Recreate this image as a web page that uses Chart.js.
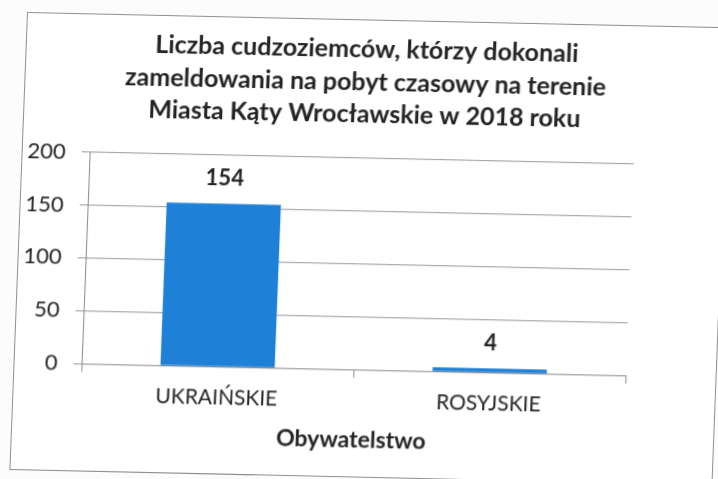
<!DOCTYPE html>
<html>
<head>
<meta charset="utf-8">
<script src="https://cdn.jsdelivr.net/npm/chart.js@4"></script>
<style>
  html, body { margin: 0; padding: 0; background: #fcfcfc; overflow: hidden; width: 718px; height: 479px; }
  /* skan jest lekko przekrzywiony - stąd macierz */
  #kadr {
    position: absolute; left: 27px; top: 12px; width: 703px; height: 458px;
    box-sizing: border-box; border: 1px solid #8f8f8f; background: #fff;
    transform: matrix(1, 0.0218, -0.0384, 1, 0, 0); transform-origin: 0 0;
  }
  #wykres { display: block; }
</style>
</head>
<body>
<div id="kadr"><canvas id="wykres" width="701" height="456"></canvas></div>
<script>
// dane
const kategorie = ['UKRAIŃSKIE', 'ROSYJSKIE'];
const liczby = [154, 4];
const tytul = [
  'Liczba cudzoziemców, którzy dokonali',
  'zameldowania na pobyt czasowy na terenie',
  'Miasta Kąty Wrocławskie w 2018 roku'
];
const osX = 'Obywatelstwo';

const czcionka = 'Lato, "Open Sans", sans-serif';

// wartości nad słupkami
const etykiety = {
  id: 'etykiety',
  afterDatasetsDraw(chart) {
    const ctx = chart.ctx;
    const meta = chart.getDatasetMeta(0);
    ctx.save();
    ctx.font = 'bold 22px ' + czcionka;
    ctx.fillStyle = '#222';
    ctx.textAlign = 'center';
    ctx.textBaseline = 'middle';
    meta.data.forEach((bar, i) => {
      ctx.fillText(String(liczby[i]), bar.x, bar.y - 25);
    });
    ctx.restore();
  }
};

new Chart(document.getElementById('wykres'), {
  type: 'bar',
  data: {
    labels: kategorie,
    datasets: [{
      data: liczby,
      backgroundColor: '#1f80d8',
      categoryPercentage: 1,
      barPercentage: 0.42
    }]
  },
  options: {
    responsive: false,
    animation: false,
    layout: { padding: { left: 4, right: 25, top: 0, bottom: 19 } },
    plugins: {
      legend: { display: false },
      tooltip: { enabled: false },
      title: {
        display: true,
        text: tytul,
        color: '#222',
        font: { family: czcionka, size: 25, weight: 'bold', lineHeight: 1.3 },
        padding: { top: 13, bottom: 27 }
      }
    },
    scales: {
      x: {
        grid: { display: true, drawOnChartArea: false, color: '#888', tickLength: 8, offset: true },
        border: { color: '#888' },
        ticks: { color: '#222', font: { family: czcionka, size: 21 }, padding: 10 },
        title: {
          display: true, text: osX, color: '#222',
          font: { family: czcionka, size: 23, weight: 'bold' }, padding: { top: 3 }
        }
      },
      y: {
        min: 0, max: 200,
        ticks: { stepSize: 50, color: '#222', font: { family: czcionka, size: 22 }, padding: 16 },
        grid: { color: '#999', tickLength: 8 },
        border: { color: '#888' },
        afterFit(s) { s.width = 63; }
      },
      // pusta oś po prawej - tylko żeby zostawić miejsce jak w oryginale
      yPrawa: {
        position: 'right',
        ticks: { display: false },
        grid: { display: false },
        border: { display: false },
        afterFit(s) { s.width = 65; }
      }
    }
  },
  plugins: [etykiety]
});
</script>
</body>
</html>
